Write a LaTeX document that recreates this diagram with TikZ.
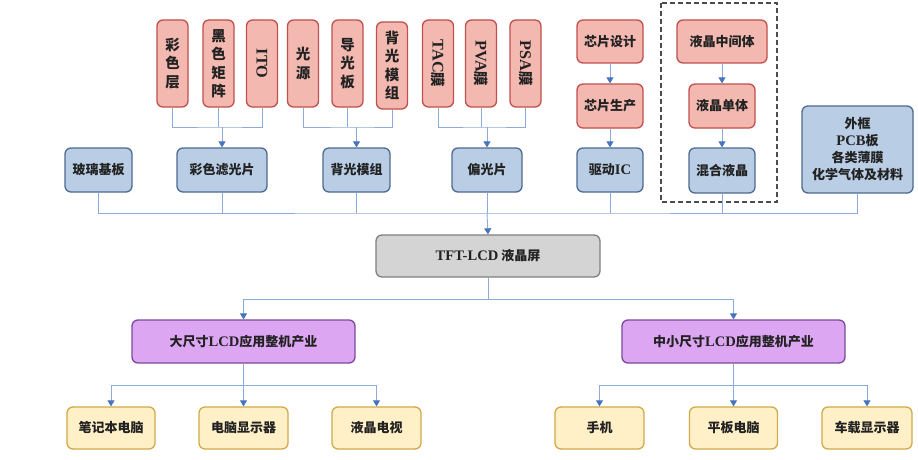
\documentclass[tikz,border=0pt]{standalone}
\usepackage{fontspec}
\usepackage{graphicx}
\setmainfont{Liberation Serif}[Scale=1.12]
\newfontfamily\cjk{Noto Sans CJK SC}
\usetikzlibrary{arrows.meta}
\newcommand{\lat}[1]{{\rmfamily\bfseries #1}}
\definecolor{redfill}{RGB}{243,185,176}
\definecolor{reddraw}{RGB}{192,80,77}
\definecolor{bluefill}{RGB}{185,205,229}
\definecolor{bluedraw}{RGB}{79,106,143}
\definecolor{grayfill}{RGB}{212,212,212}
\definecolor{graydraw}{RGB}{128,128,128}
\definecolor{purpfill}{RGB}{221,166,243}
\definecolor{purpdraw}{RGB}{122,74,154}
\definecolor{yelfill}{RGB}{255,240,200}
\definecolor{yeldraw}{RGB}{210,170,70}
\definecolor{linecol}{RGB}{140,172,215}
\definecolor{arrcol}{RGB}{70,115,190}
\definecolor{txtcol}{RGB}{34,34,34}
\tikzset{
  box/.style={rectangle, rounded corners=6pt, line width=1.3pt, inner sep=0pt, align=center,
    text=txtcol, font=\cjk\bfseries\fontsize{13}{18}\selectfont},
  redbox/.style={box, fill=redfill, draw=reddraw},
  bluebox/.style={box, fill=bluefill, draw=bluedraw},
  graybox/.style={box, fill=grayfill, draw=graydraw},
  purpbox/.style={box, fill=purpfill, draw=purpdraw},
  yelbox/.style={box, fill=yelfill, draw=yeldraw},
  vbox/.style={redbox, minimum width=31pt, minimum height=87pt, font=\cjk\bfseries\fontsize{14.5}{18.5}\selectfont},
  bus/.style={draw=linecol, line width=0.9pt},
  arr/.style={draw=linecol, line width=0.9pt, -{Triangle[width=7pt,length=6pt,color=arrcol]}},
}
\begin{document}
\begin{tikzpicture}[x=1pt,y=-1pt]
\path[use as bounding box, fill=white] (0,0) rectangle (918,460);

% dashed frame
\draw[dashed, draw=black!70, line width=1.3pt, dash pattern=on 5pt off 3pt] (661,3) rectangle (777,202);

% top red boxes
\node[vbox] (r1) at (172.5,63.5) {彩\\色\\层};
\node[vbox] (r2) at (218.5,63.5) {黑\\色\\矩\\阵};
\node[vbox] (r3) at (262,63.5) {\rotatebox{-90}{\lat{ITO}}};
\node[vbox] (r4) at (303,63.5) {光\\源};
\node[vbox] (r5) at (347.5,63.5) {导\\光\\板};
\node[vbox] (r6) at (392,65.5) {背\\光\\模\\组};
\node[vbox] (r7) at (438,63.5) {\rotatebox{-90}{\lat{TAC}膜}};
\node[vbox] (r8) at (481,63.5) {\rotatebox{-90}{\lat{PVA}膜}};
\node[vbox] (r9) at (525.5,63.5) {\rotatebox{-90}{\lat{PSA}膜}};

\node[redbox, minimum width=66pt, minimum height=43pt] (c1) at (610,41.5) {芯片设计};
\node[redbox, minimum width=66pt, minimum height=44pt] (c2) at (610,106) {芯片生产};
\node[redbox, minimum width=90pt, minimum height=43pt] (l1) at (722,41.5) {液晶中间体};
\node[redbox, minimum width=66pt, minimum height=44pt] (l2) at (722,106) {液晶单体};

% blue row
\node[bluebox, minimum width=67pt, minimum height=44pt] (b1) at (98.5,170) {玻璃基板};
\node[bluebox, minimum width=90pt, minimum height=44pt] (b2) at (222,170) {彩色滤光片};
\node[bluebox, minimum width=67pt, minimum height=44pt] (b3) at (356.5,170) {背光模组};
\node[bluebox, minimum width=70pt, minimum height=44pt] (b4) at (487,170) {偏光片};
\node[bluebox, minimum width=66pt, minimum height=44pt] (b5) at (610,170) {驱动\lat{IC}};
\node[bluebox, minimum width=66pt, minimum height=45pt] (l3) at (722,170.5) {混合液晶};
\node[bluebox, minimum width=111pt, minimum height=87pt, font=\cjk\bfseries\fontsize{13}{17}\selectfont] (b6) at (857.5,149.5) {外框\\\lat{PCB}板\\各类薄膜\\化学气体及材料};

% TFT
\node[graybox, minimum width=224pt, minimum height=42pt] (tft) at (488,256) {\lat{TFT-LCD} 液晶屏};

% purple
\node[purpbox, minimum width=223pt, minimum height=43pt] (p1) at (243.5,341.5) {大尺寸\lat{LCD}应用整机产业};
\node[purpbox, minimum width=223pt, minimum height=43pt] (p2) at (733.5,341.5) {中小尺寸\lat{LCD}应用整机产业};

% yellow
\node[yelbox, minimum width=88pt, minimum height=42pt] (y1) at (111,428) {笔记本电脑};
\node[yelbox, minimum width=89pt, minimum height=42pt] (y2) at (243.5,428) {电脑显示器};
\node[yelbox, minimum width=89pt, minimum height=42pt] (y3) at (376.5,428) {液晶电视};
\node[yelbox, minimum width=89pt, minimum height=42pt] (y4) at (599.5,428) {手机};
\node[yelbox, minimum width=88pt, minimum height=42pt] (y5) at (733.5,428) {平板电脑};
\node[yelbox, minimum width=90pt, minimum height=42pt] (y6) at (867,428) {车载显示器};

% junctions
\coordinate (j1) at (222,127);
\coordinate (j2) at (356.5,127);
\coordinate (j3) at (487,127);
\coordinate (j4) at (487,213);
\coordinate (j5) at (488,299);
\coordinate (j6) at (243.5,385);
\coordinate (j7) at (733.5,385);

% group connectors
\draw[bus] (r1.south) |- (j1) -| (r3.south);
\draw[bus] (r2.south) -- (r2.south |- j1);
\draw[arr] (j1) -- (b2.north);
\draw[bus] (r4.south) |- (j2) -| (r6.south);
\draw[bus] (r5.south) -- (r5.south |- j2);
\draw[arr] (j2) -- (b3.north);
\draw[bus] (r7.south) |- (j3) -| (r9.south);
\draw[bus] (r8.south) -- (r8.south |- j3);
\draw[arr] (j3) -- (b4.north);
\draw[arr] (c1) -- (c2);
\draw[arr] (c2) -- (b5);
\draw[arr] (l1) -- (l2);
\draw[arr] (l2) -- (l3);

% main bus
\draw[bus] (b1.south) |- (j4) -| (b6.south);
\draw[bus] (b2.south) -- (b2.south |- j4);
\draw[bus] (b3.south) -- (b3.south |- j4);
\draw[bus] (b4.south) -- (j4);
\draw[bus] (b5.south) -- (b5.south |- j4);
\draw[bus] (l3.south) -- (l3.south |- j4);
\draw[arr] (j4) -- (tft.north);

% lower
\draw[bus] (tft.south) -- (j5);
\draw[arr] (j5) -| (p1.north);
\draw[arr] (j5) -| (p2.north);
\draw[bus] (p1.south) -- (j6);
\draw[arr] (j6) -| (y1.north);
\draw[arr] (j6) -- (y2.north);
\draw[arr] (j6) -| (y3.north);
\draw[bus] (p2.south) -- (j7);
\draw[arr] (j7) -| (y4.north);
\draw[arr] (j7) -- (y5.north);
\draw[arr] (j7) -| (y6.north);
\end{tikzpicture}
\end{document}
